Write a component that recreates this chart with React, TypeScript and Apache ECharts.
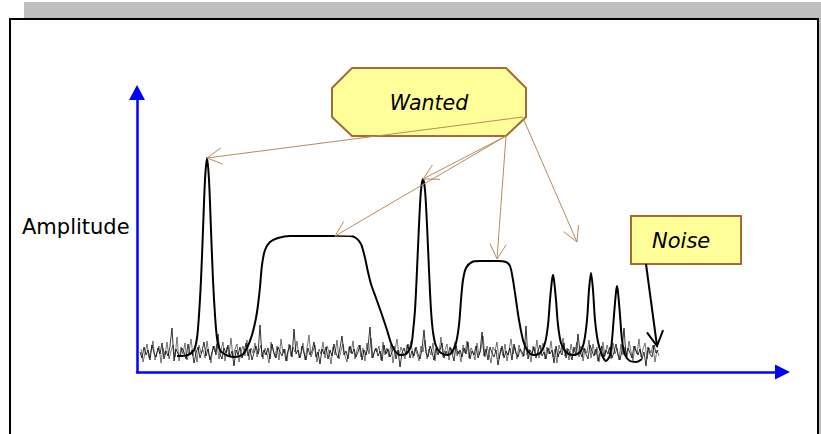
import React, { useEffect, useRef } from "react";
import * as echarts from "echarts";

// Frequency axis (arbitrary units) and amplitude axis (arbitrary units)
const FREQ_MAX = 645.5;
const AMP_MAX = 279.5;

// Wanted signal trace: frequency positions and amplitudes
const SIGNAL_FREQ = [
  40, 51, 57, 60, 62, 64, 66, 68, 70, 72, 74, 76, 78, 80, 83, 89, 97, 105, 110, 115,
  119, 121, 123, 125, 128, 133, 141, 153, 173, 196, 213, 219, 224, 228, 231, 234, 239, 245, 250, 254,
  258, 263, 269, 274, 276, 278, 280, 282, 284, 286, 288, 290, 292, 294, 296, 299, 304, 311, 315, 319,
  322, 324, 326, 329, 335, 343, 361, 369, 373, 376, 379, 382, 386, 390, 396, 403, 408, 411, 413, 415,
  416, 417, 419, 421, 424, 429, 436, 443, 447, 450, 452, 454, 456, 458, 461, 465, 469, 473, 475, 477,
  479, 480, 481, 483, 485, 488, 493, 499, 505,
];
const SIGNAL_AMP = [
  16, 17, 22, 34, 57, 92, 142, 192, 214, 192, 142, 92, 57, 34, 22, 17, 15, 17, 24, 37,
  54, 67, 85, 107, 122, 130, 134, 136, 136, 136, 136, 134, 128, 114, 100, 88, 74, 57, 42, 29,
  21, 17, 18, 26, 40, 62, 102, 147, 182, 193, 182, 147, 102, 62, 40, 26, 19, 17, 20, 29,
  47, 72, 92, 104, 110, 111, 111, 110, 106, 92, 72, 52, 32, 22, 17, 19, 29, 47, 72, 92,
  97, 92, 72, 47, 29, 20, 17, 20, 30, 52, 82, 99, 82, 52, 30, 17, 11, 17, 32, 57,
  80, 86, 80, 57, 32, 17, 11, 10, 13,
];

// Noise floor samples (two interleaved sweeps)
const NOISE_START = 3;
const NOISE_STEP = 2;
const NOISE_A = [
  20, 14, 25, 17, 22, 12, 27, 19, 15, 24, 18, 29, 13, 21, 16, 26, 44, 11, 23, 18,
  15, 24, 20, 13, 28, 17, 22, 9, 19, 25, 14, 21, 30, 16, 23, 12, 20, 26, 17, 38,
  18, 13, 24, 19, 27, 15, 21, 6, 22, 17, 25, 14, 20, 29, 16, 23, 12, 19, 26, 18,
  47, 15, 22, 17, 24, 13, 28, 19, 14, 25, 20, 16, 23, 11, 21, 27, 15, 43, 18, 22,
  14, 26, 19, 12, 24, 17, 21, 30, 15, 20, 8, 23, 18, 25, 13, 22, 16, 28, 19, 14,
  24, 36, 17, 21, 13, 26, 18, 23, 15, 20, 27, 12, 22, 17, 25, 45, 14, 19, 24, 16,
  21, 11, 27, 18, 23, 15, 20, 26, 13, 22, 5, 19, 24, 17, 28, 14, 21, 16, 25, 18,
  13, 23, 42, 19, 15, 26, 20, 12, 24, 17, 22, 29, 14, 21, 16, 25, 19, 11, 27, 18,
  22, 15, 24, 18, 30, 13, 21, 17, 26, 14, 20, 40, 16, 23, 12, 25, 19, 15, 22, 7,
  18, 26, 14, 21, 17, 24, 12, 28, 19, 15, 23, 20, 16, 46, 13, 22, 18, 25, 14, 21,
  27, 16, 20, 13, 24, 18, 22, 9, 26, 15, 21, 17, 29, 14, 23, 19, 12, 25, 17, 38,
  20, 15, 24, 18, 13, 27, 21, 16, 23, 11, 19, 26, 15, 22, 18, 25, 14, 20, 28, 17,
  12, 22, 44, 16, 24, 19, 14, 26, 21, 17, 23, 13, 20, 6, 25, 18, 15, 27, 19, 22,
];
const NOISE_B = [
  23, 10, 19, 28, 14, 22, 31, 12, 20, 26, 9, 24, 17, 30, 13, 21, 27, 15, 35, 11,
  25, 18, 29, 12, 21, 33, 16, 24, 10, 27, 19, 22, 14, 31, 17, 9, 26, 20, 28, 13,
  22, 30, 11, 25, 17, 34, 14, 23, 28, 10, 20, 26, 16, 32, 12, 24, 19, 29, 15, 21,
  27, 13, 24, 18, 9, 30, 22, 15, 26, 12, 33, 19, 23, 11, 28, 16, 25, 20, 31, 14,
  18, 29, 12, 24, 37, 15, 21, 27, 10, 23, 18, 30, 14, 26, 20, 8, 25, 17, 32, 13,
  21, 28, 16, 10, 25, 19, 31, 13, 22, 27, 15, 24, 11, 29, 18, 34, 14, 23, 20, 26,
  12, 30, 17, 24, 15, 28, 9, 22, 33, 16, 25, 19, 13, 27, 21, 31, 14, 24, 18, 11,
  26, 20, 32, 13, 23, 17, 29, 11, 25, 19, 35, 15, 22, 28, 12, 24, 18, 30, 16, 21,
  10, 27, 19, 31, 14, 24, 20, 12, 29, 17, 23, 36, 15, 26, 18, 9, 25, 21, 30, 13,
  24, 16, 28, 11, 22, 33, 18, 25, 13, 27, 20, 15, 30, 17, 23, 10, 26, 19, 32, 14,
  21, 29, 13, 25, 18, 31, 15, 23, 9, 27, 20, 34, 16, 24, 12, 28, 19, 22, 30, 15,
  26, 11, 23, 19, 32, 14, 28, 17, 25, 10, 22, 30, 16, 27, 20, 13, 29, 18, 24, 12,
  28, 17, 25, 14, 31, 20, 11, 26, 18, 33, 15, 23, 29, 13, 24, 19, 27, 10, 22, 16,
];

// Annotation arrows: [fromFreq, fromAmp, toFreq, toAmp]
const WANTED_ARROWS = [
  [386, 255, 70, 214],
  [369, 236, 198, 136],
  [369, 236, 286, 193],
  [369, 236, 360, 113],
  [386, 254, 440, 130],
];
const NOISE_ARROWS = [[509, 108, 520, 26]];

const Y_LABEL = "Amplitude";
const WANTED_LABEL = "Wanted";
const NOISE_LABEL = "Noise";

const FONT = "'DejaVu Sans', Verdana, sans-serif";
const BLUE = "#0000ff";
const BROWN_LINE = "#b98a5c";
const BROWN_BOX = "#a46c34";
const BOX_FILL = "#ffff99";

function arrowRenderer(color: string, width: number, wing: number) {
  return (_params: any, api: any) => {
    const p1 = api.coord([api.value(0), api.value(1)]);
    const p2 = api.coord([api.value(2), api.value(3)]);
    const ang = Math.atan2(p1[1] - p2[1], p1[0] - p2[0]);
    const a = 0.5;
    const w1 = [p2[0] + wing * Math.cos(ang + a), p2[1] + wing * Math.sin(ang + a)];
    const w2 = [p2[0] + wing * Math.cos(ang - a), p2[1] + wing * Math.sin(ang - a)];
    const style = { stroke: color, lineWidth: width, fill: null };
    return {
      type: "group",
      children: [
        { type: "line", shape: { x1: p1[0], y1: p1[1], x2: p2[0], y2: p2[1] }, style },
        { type: "polyline", shape: { points: [w1, p2, w2] }, style },
      ],
    };
  };
}

export default function App() {
  const ref = useRef<HTMLDivElement>(null);

  useEffect(() => {
    if (!ref.current) return;
    const chart = echarts.init(ref.current, null, { renderer: "svg" });

    const signalData = SIGNAL_FREQ.map((f, i) => [f, SIGNAL_AMP[i]]);
    const noiseA = NOISE_A.map((v, i) => [NOISE_START + i * NOISE_STEP, v]);
    const noiseB = NOISE_B.map((v, i) => [NOISE_START + 1 + i * NOISE_STEP, v]);

    const option: any = {
      animation: false,
      backgroundColor: "transparent",
      grid: {
        left: 137,
        top: 92.5,
        right: 821 - 137 - FREQ_MAX,
        bottom: 62,
        containLabel: false,
      },
      xAxis: {
        type: "value",
        min: 0,
        max: FREQ_MAX,
        axisLine: {
          show: true,
          symbol: ["none", "triangle"],
          symbolSize: [15, 15],
          lineStyle: { color: BLUE, width: 2.5 },
        },
        axisTick: { show: false },
        axisLabel: { show: false },
        splitLine: { show: false },
      },
      yAxis: {
        type: "value",
        min: 0,
        max: AMP_MAX,
        axisLine: {
          show: true,
          symbol: ["none", "triangle"],
          symbolSize: [16, 15],
          lineStyle: { color: BLUE, width: 2.5 },
        },
        axisTick: { show: false },
        axisLabel: { show: false },
        splitLine: { show: false },
      },
      graphic: [
        {
          type: "text",
          left: 22,
          top: 216,
          style: { text: Y_LABEL, font: `21px ${FONT}`, fill: "#000" },
        },
        {
          type: "polygon",
          z: 1,
          shape: {
            points: [
              [332, 88], [352, 68], [506, 68], [526, 88],
              [526, 117], [506, 136], [352, 136], [332, 117],
            ],
          },
          style: { fill: BOX_FILL, stroke: BROWN_BOX, lineWidth: 2 },
        },
        {
          type: "text",
          z: 3,
          x: 429,
          y: 103,
          style: {
            text: WANTED_LABEL,
            font: `italic 20.5px ${FONT}`,
            fill: "#000",
            align: "center",
            verticalAlign: "middle",
          },
        },
        {
          type: "rect",
          z: 1,
          shape: { x: 631, y: 216, width: 110, height: 48 },
          style: { fill: BOX_FILL, stroke: BROWN_BOX, lineWidth: 2 },
        },
        {
          type: "text",
          z: 3,
          x: 652,
          y: 241,
          style: {
            text: NOISE_LABEL,
            font: `italic 21px ${FONT}`,
            fill: "#000",
            align: "left",
            verticalAlign: "middle",
          },
        },
      ],
      series: [
        {
          type: "line",
          data: noiseB,
          symbol: "none",
          z: 2,
          lineStyle: { color: "#3a3a3a", width: 0.7 },
        },
        {
          type: "line",
          data: noiseA,
          symbol: "none",
          z: 2,
          lineStyle: { color: "#000", width: 0.8 },
        },
        {
          type: "line",
          data: signalData,
          symbol: "none",
          smooth: 0.3,
          z: 3,
          lineStyle: { color: "#000", width: 2 },
        },
        {
          type: "custom",
          data: WANTED_ARROWS,
          z: 4,
          clip: false,
          renderItem: arrowRenderer(BROWN_LINE, 1, 17),
        },
        {
          type: "custom",
          data: NOISE_ARROWS,
          z: 4,
          clip: false,
          renderItem: arrowRenderer("#000", 2, 17),
        },
      ],
    };

    chart.setOption(option);
    return () => chart.dispose();
  }, []);

  return (
    <div style={{ position: "fixed", left: 0, top: 0, width: 821, height: 434, background: "#fff", overflow: "hidden" }}>
      <div style={{ position: "absolute", left: 24, top: 2, width: 820, height: 460, background: "#bfbfbf" }} />
      <div
        style={{
          position: "absolute",
          left: 9,
          top: 18,
          width: 806,
          height: 460,
          background: "#fff",
          border: "2px solid #000",
        }}
      />
      <div ref={ref} style={{ position: "absolute", left: 0, top: 0, width: 821, height: 434 }} />
    </div>
  );
}
